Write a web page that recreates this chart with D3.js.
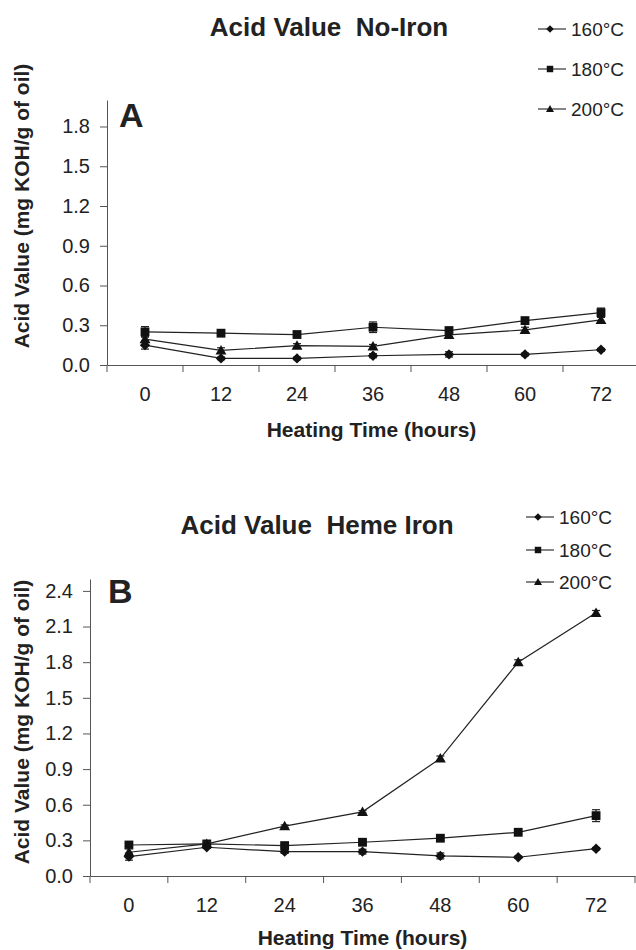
<!DOCTYPE html>
<html>
<head>
<meta charset="utf-8">
<script src="https://cdn.jsdelivr.net/npm/d3@7"></script>
<style>
  body { margin: 0; background: #fff; }
  svg { display: block; font-family: "Liberation Sans", Arial, sans-serif; }
  .axis path, .axis line { stroke: #555; }
  .axis text { font-size: 20px; fill: #222; }
</style>
</head>
<body>
<svg id="chart" width="636" height="950"></svg>
<script>
// categories
const hours = ["0", "12", "24", "36", "48", "60", "72"];
const temps = ["160°C", "180°C", "200°C"];
const yTicksA = [0, 0.3, 0.6, 0.9, 1.2, 1.5, 1.8];
const yTicksB = [0, 0.3, 0.6, 0.9, 1.2, 1.5, 1.8, 2.1, 2.4];

// Panel A - no iron
const noIron160 = [0.15, 0.05, 0.05, 0.07, 0.08, 0.08, 0.115];
const noIron180 = [0.25, 0.24, 0.23, 0.285, 0.26, 0.335, 0.395];
const noIron200 = [0.195, 0.11, 0.146, 0.14, 0.227, 0.265, 0.34];
const noIronErr160 = [0.03, 0.01, 0.01, 0.015, 0.02, 0.01, 0.01];
const noIronErr180 = [0.04, 0.015, 0.02, 0.04, 0.02, 0.015, 0.035];
const noIronErr200 = [0.02, 0.02, 0.015, 0.015, 0.015, 0.02, 0.02];

// Panel B - heme iron
const heme160 = [0.163, 0.242, 0.205, 0.205, 0.169, 0.158, 0.23];
const heme180 = [0.261, 0.27, 0.256, 0.284, 0.318, 0.368, 0.508];
const heme200 = [0.2, 0.27, 0.42, 0.54, 0.99, 1.8, 2.215];
const hemeErr160 = [0.03, 0.01, 0.015, 0.02, 0.025, 0.01, 0.01];
const hemeErr180 = [0.015, 0.01, 0.015, 0.015, 0.02, 0.01, 0.05];
const hemeErr200 = [0.03, 0.02, 0.01, 0.01, 0.02, 0.02, 0.02];

// custom marker shapes
const diamond = {
  draw(ctx, s) {
    ctx.moveTo(0, -s); ctx.lineTo(s, 0); ctx.lineTo(0, s); ctx.lineTo(-s, 0); ctx.closePath();
  }
};
const square = {
  draw(ctx, s) { ctx.rect(-s * 0.85, -s * 0.85, s * 1.7, s * 1.7); }
};
const triangle = {
  draw(ctx, s) {
    ctx.moveTo(0, -s * 1.05); ctx.lineTo(s * 1.05, s * 0.8); ctx.lineTo(-s * 1.05, s * 0.8); ctx.closePath();
  }
};
const shapes = [diamond, square, triangle];

const svg = d3.select("#chart");

function drawPanel(p) {
  const x = d3.scaleBand().domain(hours).range([p.left, p.right]);
  const y = d3.scaleLinear().domain([0, p.yMax]).range([p.bottom, p.top]);
  const g = svg.append("g");

  // y axis
  g.append("g")
    .attr("class", "axis")
    .attr("transform", `translate(${p.left},0)`)
    .call(d3.axisLeft(y).tickValues(p.yTicks).tickFormat(d3.format(".1f"))
      .tickSize(7).tickSizeOuter(0).tickPadding(p.yPad));

  // x axis: labels centred in bands, ticks between categories
  const xa = g.append("g")
    .attr("class", "axis")
    .attr("transform", `translate(0,${p.bottom})`)
    .call(d3.axisBottom(x).tickSize(0).tickSizeOuter(0).tickPadding(22));
  const bounds = hours.map((h) => x(h)).concat([x.range()[1]]);
  xa.selectAll(".sep").data(bounds).join("line")
    .attr("class", "sep")
    .attr("x1", (d) => d).attr("x2", (d) => d)
    .attr("y1", 0).attr("y2", 7);

  // axis titles
  g.append("text")
    .attr("x", (p.left + Math.min(p.right, 636)) / 2)
    .attr("y", p.xTitleY)
    .attr("text-anchor", "middle")
    .style("font-size", "21px").style("font-weight", "bold").attr("fill", "#222")
    .text("Heating Time (hours)");
  g.append("text")
    .attr("transform", `translate(29,${p.yTitleMid}) rotate(-90)`)
    .attr("text-anchor", "middle")
    .style("font-size", "21px").style("font-weight", "bold").attr("fill", "#222")
    .text("Acid Value (mg KOH/g of oil)");

  // title and panel letter
  g.append("text")
    .attr("x", p.titleX).attr("y", p.titleY)
    .attr("text-anchor", "middle")
    .style("font-size", "26px").style("font-weight", "bold").style("white-space", "pre")
    .attr("fill", "#222")
    .text(p.title);
  g.append("text")
    .attr("x", p.letterX).attr("y", p.letterY)
    .style("font-size", "34px").style("font-weight", "bold").attr("fill", "#222")
    .text(p.letter);

  // series
  const cx = (i) => x(hours[i]) + x.bandwidth() / 2;
  const line = d3.line().x((d, i) => cx(i)).y((d) => y(d));
  p.series.forEach((vals, k) => {
    const errs = p.errors[k];
    g.append("path")
      .datum(vals)
      .attr("fill", "none")
      .attr("stroke", "#222")
      .attr("stroke-width", 1.2)
      .attr("d", line);

    const eb = g.append("g").attr("stroke", "#222").attr("stroke-width", 1.2);
    vals.forEach((v, i) => {
      const e = errs[i];
      eb.append("line").attr("x1", cx(i)).attr("x2", cx(i)).attr("y1", y(v - e)).attr("y2", y(v + e));
      [v - e, v + e].forEach((w) => {
        eb.append("line").attr("x1", cx(i) - 4).attr("x2", cx(i) + 4).attr("y1", y(w)).attr("y2", y(w));
      });
    });

    g.append("g").selectAll("path").data(vals).join("path")
      .attr("transform", (d, i) => `translate(${cx(i)},${y(d)})`)
      .attr("d", d3.symbol().type(shapes[k]).size(5.2))
      .attr("fill", "#111");
  });

  // legend
  temps.forEach((t, k) => {
    const ly = p.legendY[k];
    const lg = g.append("g");
    lg.append("line")
      .attr("x1", p.legendX).attr("x2", p.legendX + 28)
      .attr("y1", ly - 7).attr("y2", ly - 7)
      .attr("stroke", "#222").attr("stroke-width", 1.1);
    lg.append("path")
      .attr("transform", `translate(${p.legendX + 12},${ly - 7})`)
      .attr("d", d3.symbol().type(shapes[k]).size(3.8))
      .attr("fill", "#111");
    lg.append("text")
      .attr("x", p.legendX + 33).attr("y", ly)
      .style("font-size", "19px").attr("fill", "#222")
      .text(t);
  });
}

drawPanel({
  title: "Acid Value  No-Iron", letter: "A",
  left: 107, right: 639, top: 100, bottom: 365, yMax: 2.0,
  yTicks: yTicksA, yPad: 10,
  series: [noIron160, noIron180, noIron200],
  errors: [noIronErr160, noIronErr180, noIronErr200],
  titleX: 329, titleY: 36, letterX: 119, letterY: 127,
  legendX: 538, legendY: [36, 76, 116],
  xTitleY: 437, yTitleMid: 206
});

drawPanel({
  title: "Acid Value  Heme Iron", letter: "B",
  left: 90, right: 635, top: 579, bottom: 876, yMax: 2.5,
  yTicks: yTicksB, yPad: 10,
  series: [heme160, heme180, heme200],
  errors: [hemeErr160, hemeErr180, hemeErr200],
  titleX: 317, titleY: 534, letterX: 108, letterY: 603,
  legendX: 526, legendY: [524, 557, 589],
  xTitleY: 945, yTitleMid: 722
});
</script>
</body>
</html>
